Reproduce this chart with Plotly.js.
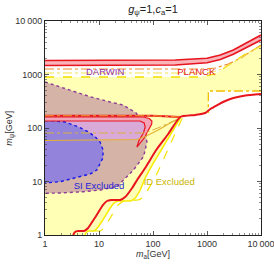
<!DOCTYPE html>
<html><head><meta charset="utf-8">
<script src="https://cdn.plot.ly/plotly-3.0.1.min.js"></script>
<style>html,body{margin:0;padding:0;background:#fff}#chart{width:274px;height:264px}</style>
</head><body><div id="chart"></div><script>
// ---- data (GeV) ----
const yellowRegionX = [1, 751, 1426, 3075, 5837, 10000, 10000, 1058, 1058, 930, 607, 320, 208.5, 141.9, 96.7, 71.7, 57.9, 46.8, 37.8, 22.6, 19.1, 16.1, 12.4, 9.62, 8.11, 6.28, 5.76, 5.52, 1];
const yellowRegionY = [898, 898, 1022, 1735, 2634, 3410, 492, 492, 190.7, 188, 172, 155, 74, 38.8, 20.3, 11.6, 6.94, 4.92, 4.32, 4.32, 3.96, 3.20, 2.08, 1.41, 1.188, 1.188, 1.09, 1, 1];
const yellowTopX = [1, 751, 1426, 3075, 5837, 10000];
const yellowTopY = [898, 898, 1022, 1735, 2634, 3410];
const yellowNotchX = [10000, 1058, 1058];
const yellowNotchY = [492, 492, 190.7];

const darwinX = [1, 1.90, 6.84, 16.1, 28.0, 48.8, 63.1, 73.2, 77.1, 71.7, 66.6, 43.5, 30.5, 21.4, 10.48, 5.14, 1.90, 1];
const darwinY = [724, 584, 385, 306, 269, 190.7, 129.5, 80.7, 54.7, 38.8, 29.1, 16.4, 11.6, 8.0, 6.93, 6.45, 6.10, 6.02];

const siX = [1, 1.35, 2.35, 4.10, 6.28, 8.47, 10.48, 11.9, 11.8, 10.0, 9.10, 6.84, 4.46, 1.90, 1];
const siY = [138, 136.9, 129.5, 105.7, 85.3, 68.8, 54.7, 38.8, 27.5, 20.3, 16.4, 13.8, 12.3, 9.91, 9.38];

const lavenderX = [1, 57.9, 68.7, 71.7, 66.6, 60.4, 1];
const lavenderY = [135.1, 135.1, 124.0, 104.4, 80.6, 61.0, 58.4];

const loopX = [1, 65.8, 85.0, 95.4, 94.6, 88.7, 68.7, 50.3, 55.5, 66.6, 71.7, 68.7, 57.9, 1];
const loopY = [160.6, 160.6, 150.6, 135.1, 118.8, 104.4, 65.0, 44.1, 59.7, 80.6, 104.4, 124.0, 135.1, 135.1];

const redFlatX = [1, 100, 320];
const redFlatY = [169.8, 169.8, 160.6];

const redCurveX = [3.31, 3.60, 4.10, 5.29, 6.28, 8.84, 11.9, 14.1, 16.8, 24.6, 30.5, 41.1, 50.9, 71.7, 114.7, 191.4, 320, 607, 930, 1151, 1553, 2185, 3075, 5135, 10000];
const redCurveY = [1, 1.138, 1.188, 1.188, 1.35, 2.27, 3.64, 4.32, 4.51, 4.51, 5.13, 7.56, 10.7, 17.9, 38.8, 77.3, 160.6, 175, 190.7, 226.5, 269, 319.6, 363.7, 405, 432];

const yellowSolidX = [320, 208.5, 141.9, 96.7, 71.7, 57.9, 46.8, 37.8, 22.6, 19.1, 16.1, 12.4, 9.62, 8.11, 6.28, 5.76, 5.52];
const yellowSolidY = [153.8, 74.0, 38.8, 20.3, 11.6, 6.94, 4.92, 4.32, 4.32, 3.96, 3.20, 2.08, 1.41, 1.188, 1.188, 1.09, 1];

const yellowDashX = [348, 227, 154.6, 119.7, 88.7, 65.8, 53.1, 33.2, 26.8, 22.6, 16.1, 11.9, 10.48, 8.47, 7.45];
const yellowDashY = [153.8, 59.7, 25.2, 14.4, 8.24, 5.13, 4.51, 4.51, 4.14, 3.64, 2.08, 1.295, 1.188, 1.188, 1];

const planckX = [1, 57.9, 258, 1000, 1766, 3075, 5360, 10000];
const planckUpperY = [1827, 1827, 1866, 2009, 2315, 2870, 3880, 5475];
const planckLowerY = [1473, 1473, 1505, 1662, 1907, 2385, 3196, 4415];

const orangeTopX = [1, 971, 1426, 2485, 4147, 6360, 10000];
const orangeTopY = [1267, 1267, 1322, 1572, 2009, 2634, 3560];
const yellowDDX = [1, 930, 1630, 2930, 5837, 10000];
const yellowDDY = [1067, 1067, 1190, 1640, 2540, 3410];

const goldSolidX = [1, 50.9, 71.7, 124.9, 208.5, 320];
const goldSolidY = [58.4, 61.0, 69.4, 91.8, 124, 153.8];
const goldDDX = [1, 71.7, 136, 320];
const goldDDY = [80.6, 80.6, 104.4, 153.8];

const labelText = ['DARWIN', 'PLANCK', 'SI Excluded', 'ID Excluded'];
const labelX = [13.0, 633, 10.0, 200];
const labelY = [1067, 1067, 8.0, 9.66];
const labelColor = ['#9430A6', '#E8141E', '#2424D8', '#C8B400'];

const tickVals = [1, 10, 100, 1000, 10000];
const tickText = ['1', '10', '100', '1000', '10\u2009000'];
const minorVals = [];
[1, 10, 100, 1000].forEach(d => { for (let k = 2; k <= 9; k++) minorVals.push(d * k); });

// ---- traces ----
const RED = '#E8141E';
const traces = [
  {x: yellowRegionX, y: yellowRegionY, mode: 'lines', fill: 'toself', fillcolor: '#FFFFB6', line: {width: 0}},
  {x: yellowTopX, y: yellowTopY, mode: 'lines', line: {color: '#F2DE00', width: 1.3, dash: 'dash'}},
  {x: yellowNotchX, y: yellowNotchY, mode: 'lines', line: {color: '#F2C000', width: 1.3, dash: 'dashdot'}},
  {x: darwinX, y: darwinY, mode: 'lines', fill: 'toself', fillcolor: '#D5B3A7', line: {color: '#8C3C96', width: 1.4, dash: 'dot'}},
  {x: lavenderX, y: lavenderY, mode: 'lines', fill: 'toself', fillcolor: '#D9AAD8', line: {width: 0}},
  {x: siX, y: siY, mode: 'lines', fill: 'toself', fillcolor: '#9383DA', line: {color: '#1A1AE6', width: 1.4, dash: 'dot'}},
  {x: loopX, y: loopY, mode: 'lines', fill: 'toself', fillcolor: '#F2A4B8', line: {color: RED, width: 1.2}},
  {x: goldSolidX, y: goldSolidY, mode: 'lines', line: {color: '#E6B030', width: 1.1}},
  {x: goldDDX, y: goldDDY, mode: 'lines', line: {color: '#D9B040', width: 1, dash: 'dashdot'}},
  {x: yellowDashX, y: yellowDashY, mode: 'lines', line: {color: '#F5E400', width: 1.2, dash: 'dash', shape: 'spline', smoothing: 0.5}},
  {x: yellowSolidX, y: yellowSolidY, mode: 'lines', line: {color: '#F8EC00', width: 1.5, shape: 'spline', smoothing: 0.5}},
  {x: redFlatX, y: redFlatY, mode: 'lines', line: {color: RED, width: 2}},
  {x: redFlatX, y: redFlatY, mode: 'lines', line: {color: '#F59A30', width: 1, dash: 'dashdot'}},
  {x: redCurveX, y: redCurveY, mode: 'lines', line: {color: RED, width: 2, shape: 'spline', smoothing: 0.5}},
  {x: planckX, y: planckLowerY, mode: 'lines', line: {color: RED, width: 1.6}},
  {x: planckX, y: planckUpperY, mode: 'lines', fill: 'tonexty', fillcolor: '#F8B4B8', line: {color: RED, width: 1.6}},
  {x: orangeTopX, y: orangeTopY, mode: 'lines', line: {color: '#F08C28', width: 1.2, dash: 'dashdot'}},
  {x: yellowDDX, y: yellowDDY, mode: 'lines', line: {color: '#F2E24A', width: 1.1, dash: 'dashdot'}},
  {x: labelX, y: labelY, mode: 'text', text: labelText, textposition: 'middle center',
   textfont: {family: 'Liberation Sans, Arial', size: 9.5, color: labelColor}}
];

const axisCommon = {
  type: 'log', range: [0, 4], showgrid: false, zeroline: false,
  showline: true, linecolor: '#222', linewidth: 1, mirror: 'allticks',
  ticks: 'inside', ticklen: 4, tickwidth: 0.8, tickcolor: '#333',
  tickmode: 'array', tickvals: tickVals, ticktext: tickText,
  ticklabeloverflow: 'allow',
  tickfont: {family: 'Liberation Sans, Arial', size: 9, color: '#333'},
  minor: {ticks: 'inside', ticklen: 2, tickwidth: 0.6, tickcolor: '#444', tickmode: 'array', tickvals: minorVals}
};

const layout = {
  width: 274, height: 264,
  margin: {l: 45, r: 13, t: 21, b: 29},
  paper_bgcolor: '#fff', plot_bgcolor: '#fff',
  showlegend: false,
  title: {text: '<i>g</i><sub>ψ</sub>=1,<i>c</i><sub>a</sub>=1', x: 0.5, xref: 'paper', xanchor: 'center',
          y: 0.966, yref: 'container', yanchor: 'middle',
          font: {family: 'Liberation Sans, Arial', size: 11, color: '#222'}},
  xaxis: Object.assign({}, axisCommon),
  yaxis: Object.assign({}, axisCommon),
  annotations: [
    {text: '<i>m</i><sub>a</sub>[GeV]', xref: 'paper', yref: 'paper', x: 0.5, y: -0.093, xanchor: 'center', yanchor: 'middle',
     showarrow: false, font: {family: 'Liberation Sans, Arial', size: 9, color: '#333'}},
    {text: '<i>m</i><sub>ψ</sub>[GeV]', xref: 'paper', yref: 'paper', x: -0.163, y: 0.5, xanchor: 'center', yanchor: 'middle',
     textangle: -90, showarrow: false, font: {family: 'Liberation Sans, Arial', size: 9, color: '#333'}}
  ]
};

Plotly.newPlot('chart', traces, layout, {staticPlot: true, displayModeBar: false});
</script></body></html>
